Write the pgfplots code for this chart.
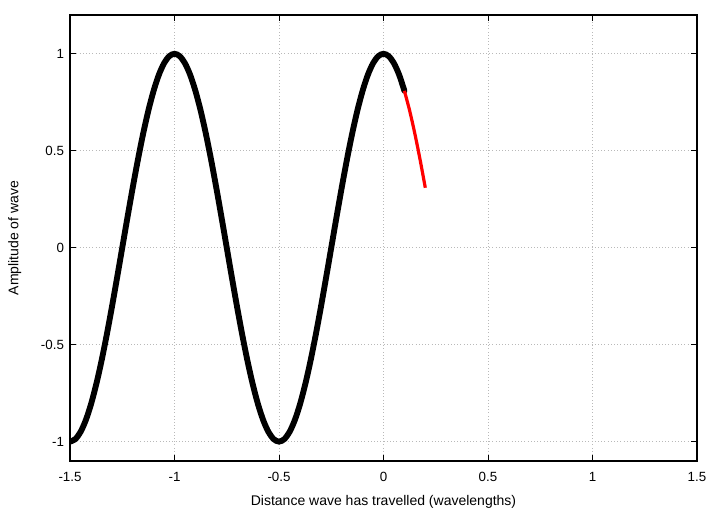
\documentclass[border=0pt]{standalone}
\usepackage{pgfplots}
\pgfplotsset{compat=1.18}
\usepackage{fontspec}
\setmainfont{Liberation Sans}
\usetikzlibrary{calc}
\begin{document}
\begin{tikzpicture}
\begin{axis}[
  scale only axis,
  width=470.25pt, height=334.5pt,
  xmin=-1.5, xmax=1.5, ymin=-1.1, ymax=1.2,
  xtick={-1.5,-1,-0.5,0,0.5,1,1.5},
  ytick={-1,-0.5,0,0.5,1},
  xticklabels={-1.5,-1,-0.5,0,0.5,1,1.5},
  yticklabels={-1,-0.5,0,0.5,1},
  tick align=inside,
  major tick length=4.5pt,
  tick style={black, line width=0.75pt},
  axis line style={black, line width=0.9pt},
  grid=major,
  grid style={gray!55, dotted, line width=0.6pt},
  xlabel={Distance wave has travelled (wavelengths)},
  ylabel={Amplitude of wave},
  ticklabel style={font=\fontsize{10}{12}\selectfont},
  label style={font=\fontsize{10.5}{12}\selectfont},
  xlabel style={yshift=-3pt},
  ylabel style={yshift=8pt},
  xticklabel style={yshift=-5pt},
  yticklabel style={xshift=-1pt},
]
\addplot[black, line width=4.4pt, smooth, line cap=round] coordinates {
(-1.5,-1) (-1.475,-0.9877) (-1.45,-0.9511) (-1.425,-0.8910) (-1.4,-0.8090)
(-1.375,-0.7071) (-1.35,-0.5878) (-1.325,-0.4540) (-1.3,-0.3090) (-1.275,-0.1564)
(-1.25,0) (-1.225,0.1564) (-1.2,0.3090) (-1.175,0.4540) (-1.15,0.5878)
(-1.125,0.7071) (-1.1,0.8090) (-1.075,0.8910) (-1.05,0.9511) (-1.025,0.9877)
(-1.0,1) (-0.975,0.9877) (-0.95,0.9511) (-0.925,0.8910) (-0.9,0.8090)
(-0.875,0.7071) (-0.85,0.5878) (-0.825,0.4540) (-0.8,0.3090) (-0.775,0.1564)
(-0.75,0) (-0.725,-0.1564) (-0.7,-0.3090) (-0.675,-0.4540) (-0.65,-0.5878)
(-0.625,-0.7071) (-0.6,-0.8090) (-0.575,-0.8910) (-0.55,-0.9511) (-0.525,-0.9877)
(-0.5,-1) (-0.475,-0.9877) (-0.45,-0.9511) (-0.425,-0.8910) (-0.4,-0.8090)
(-0.375,-0.7071) (-0.35,-0.5878) (-0.325,-0.4540) (-0.3,-0.3090) (-0.275,-0.1564)
(-0.25,0) (-0.225,0.1564) (-0.2,0.3090) (-0.175,0.4540) (-0.15,0.5878)
(-0.125,0.7071) (-0.1,0.8090) (-0.075,0.8910) (-0.05,0.9511) (-0.025,0.9877)
(0,1) (0.025,0.9877) (0.05,0.9511) (0.075,0.8910) (0.1,0.8090)
};
\addplot[red, line width=2.4pt, smooth] coordinates {
(0.1,0.8090) (0.125,0.7071) (0.15,0.5878) (0.175,0.4540) (0.2,0.3090)
};
\end{axis}
\path ($(current axis.south west)+(-52.5pt,-32.25pt)$) rectangle ($(current axis.north east)+(17.25pt,11.25pt)$);
\end{tikzpicture}
\end{document}
